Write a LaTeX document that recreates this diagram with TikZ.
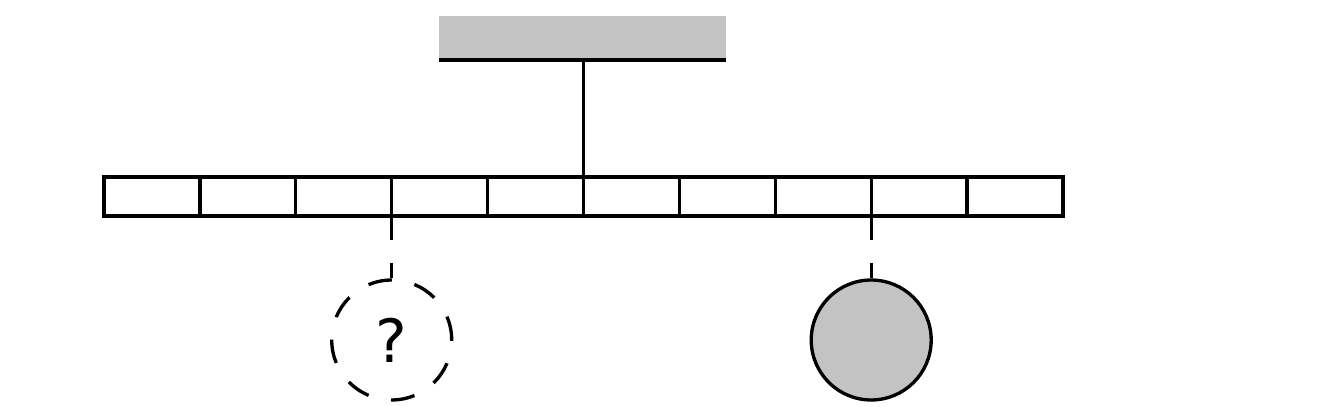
\documentclass[tikz,border=0pt]{standalone}
\usepackage{fontspec}
\newfontfamily\qfont{DejaVu Sans}
\usetikzlibrary{positioning,calc}
\definecolor{boxgray}{RGB}{195,195,195}

\tikzset{
	cell/.style={draw, line width=1.9pt, minimum width=1.918cm, minimum height=0.78cm, inner sep=0pt, outer sep=0pt},
	dashline/.style={line width=1.9pt, dash pattern=on 0.48cm off 0.46cm},
}

\begin{document}
\begin{tikzpicture}[x=0.02cm,y=-0.02cm]
	\useasboundingbox (0,0) rectangle (1333,406);
	% top block
	\node [fill=boxgray, minimum width=5.74cm, minimum height=0.88cm, inner sep=0pt, outer sep=0pt] (top) at (582.5,38) {};
	\draw [line width=1.9pt] (top.south west) -- (top.south east);
	% array of cells
	\foreach \i in {0,...,9}
		\node [cell] (c\i) at ({104+95.9*(\i+0.5)},196.5) {};
	\draw [line width=1.9pt] (c5.north west |- top.south) -- (c5.north west);
	% the two elements below
	\node [circle, draw, dashline, minimum size=2.4cm, inner sep=0pt] (q) at ($(c3.south west)+(0,124)$) {\qfont\fontsize{34}{40}\selectfont ?};
	\node [circle, draw, line width=1.9pt, fill=boxgray, minimum size=2.4cm, inner sep=0pt] (g) at ($(c8.south west)+(0,124)$) {};
	\draw [dashline] (c3.south west) -- (q.north);
	\draw [dashline] (c8.south west) -- (g.north);
\end{tikzpicture}
\end{document}
